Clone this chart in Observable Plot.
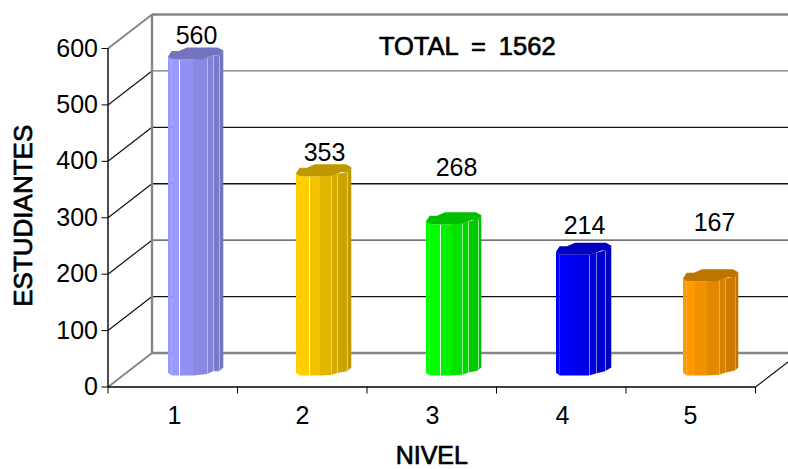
<!DOCTYPE html>
<html>
<head>
<meta charset="utf-8">
<script src="https://cdn.jsdelivr.net/npm/d3@7"></script>
<script src="https://cdn.jsdelivr.net/npm/@observablehq/plot@0.6"></script>
<style>html,body{margin:0;padding:0;background:#fff}svg{display:block}.wide{word-spacing:6px}</style>
</head>
<body>
<div id="chart"></div>
<script>
const niveles = ["1", "2", "3", "4", "5"];
const estudiantes = [560, 353, 268, 214, 167];
const baseColors = ["#9999ff", "#ffcc00", "#00ff00", "#0000ff", "#ff9900"];
const yTicks = [0, 100, 200, 300, 400, 500, 600];
const tituloTotal = "TOTAL = 1562";
const tituloY = "ESTUDIANTES";
const tituloX = "NIVEL";

// plot geometry
const mL = 107.5, mR = 33, mT = 48, mB = 82.5;
const W = 788, H = 469;
const xMax = 5, yMax = 600;
const pxX = (W - mL - mR) / xMax;       // pixels per x unit
const pxY = (H - mT - mB) / yMax;       // pixels per y unit
const ux = p => p / pxX, uy = p => p / pxY;
const depthX = ux(44), depthY = uy(34);  // oblique depth of the floor
const barLeftPx = [60.5, 188.5, 318.5, 448.5, 575.5];
const barLeft = i => ux(barLeftPx[i]);
const baseY = uy(11);                    // bars stand in the middle of the floor depth

// prism cross-section, in pixels from bar's left edge and rise above the front line
const profileX  = [0, 3.7, 33.7, 39.3, 45.3, 51.3, 55.3];
const profileUp = [2.7, 0, 0, 1.7, 4.3, 4.3, 8];
const rise = d3.scaleLinear(profileX, profileUp);
const facetShade = [1, 1, 0.95, 0.89, 0.84, 0.8, 0.75];
const capX  = [0, 3.7, 11, 19, 33.7, 39.3, 45.3, 50, 51.3, 55.3];
const capLo = [2.7, 0, 0, 0, 0, 1.7, 4.3, 4.3, 4.3, 8];
const capHi = [3, 8.5, 8.5, 12, 12, 12, 12, 12, 11.3, 9];
const capShade = 0.75;
// light facet edges of each prism
const edgeAt = [[11, 39, 45, 51], [13, 35, 41, 51], [14, 36, 42, 52], [11, 33, 40, 49], [12, 36, 42, 52]];
const edgeFirst = [0.9, 0.9, 0.9, 0, 0];
const edgeRest = [0.45, 0.5, 0.6, 0.5, 0.35];

const shade = (c, k) => {
  const r = d3.rgb(c);
  return d3.rgb(r.r * k, r.g * k, r.b * k).formatHex();
};

const strips = [], caps = [], edges = [];
estudiantes.forEach((v, i) => {
  const L = barLeft(i);
  const [e1, e2, e3, e4] = edgeAt[i];
  const xs = [0, 3.7, e1, (e1 + e2) / 2, e2, e3, e4, 55.3];
  facetShade.forEach((k, f) => {
    for (const j of [f, f + 1]) {
      const up = uy(rise(xs[j]));
      strips.push({
        id: `${i}-${f}`,
        x: L + ux(xs[j]),
        y1: baseY + up,
        y2: baseY + v + up,
        fill: shade(baseColors[i], k)
      });
    }
  });
  capX.forEach((p, j) => {
    caps.push({
      id: i,
      x: L + ux(p),
      y1: baseY + v + uy(capLo[j]),
      y2: baseY + v + uy(capHi[j]),
      fill: shade(baseColors[i], capShade)
    });
  });
  edgeAt[i].forEach((p, n) => {
    const up = uy(rise(p));
    edges.push({
      x: L + ux(p),
      y1: baseY + up,
      y2: baseY + v + up,
      o: n === 0 ? edgeFirst[i] : edgeRest[i]
    });
  });
});

// label placement above the bars
const labelX = [28, 28, 30, 28, 31].map(ux);
const labelLift = [24, 24, 57, 29, 59].map(uy);
const tickLabelX = [66.5, 194.5, 324.5, 454.5, 582.5].map(ux);
const gridColor = d => (d === 500 ? "#777" : d === 200 ? "#444" : "#111");

const plot = Plot.plot({
  width: W, height: H,
  marginLeft: mL, marginRight: mR, marginTop: mT, marginBottom: mB,
  x: {domain: [0, xMax], range: [mL, W - mR], axis: null},
  y: {domain: [0, yMax], range: [H - mB, mT], axis: null},
  color: {type: "identity"},
  style: {fontFamily: "'Liberation Sans', Arial, sans-serif", fontSize: "25px", color: "#000", background: "#fff"},
  marks: [
    // back wall grid
    Plot.link(yTicks.slice(1, -1), {x1: depthX, x2: xMax + depthX, y1: d => d + depthY, y2: d => d + depthY, stroke: gridColor, strokeWidth: 1.3}),
    Plot.link(yTicks.slice(1, -1), {x1: 0, x2: depthX, y1: d => d, y2: d => d + depthY, stroke: "#111", strokeWidth: 1.2}),
    Plot.link([0, yMax], {x1: depthX, x2: xMax + depthX, y1: d => d + depthY, y2: d => d + depthY, stroke: "#868686", strokeWidth: 2.4}),
    Plot.link([0, yMax], {x1: 0, x2: depthX, y1: d => d, y2: d => d + depthY, stroke: "#868686", strokeWidth: 2}),
    Plot.link([depthX], {x1: d => d, x2: d => d, y1: depthY, y2: yMax + depthY, stroke: "#868686", strokeWidth: 2.4}),
    Plot.link([xMax], {x1: d => d, x2: d => d + depthX, y1: 0, y2: depthY, stroke: "#111", strokeWidth: 1.2}),
    // axes
    Plot.ruleX([0], {stroke: "#000", strokeWidth: 1.4, y1: 0, y2: yMax}),
    Plot.ruleY([0], {stroke: "#000", strokeWidth: 1.4, x1: 0, x2: xMax}),
    Plot.axisY({ticks: yTicks, tickSize: 6, tickPadding: 4, fontSize: 25, label: null, stroke: "#000"}),
    Plot.axisX({ticks: d3.range(0, xMax + 1), tickSize: 7, tickFormat: () => "", label: null, stroke: "#000"}),
    // bars
    Plot.area(strips, {x1: "x", y1: "y1", y2: "y2", z: "id", fill: "fill", curve: "linear"}),
    Plot.link(edges, {x1: "x", x2: "x", y1: "y1", y2: "y2", stroke: "#fff", strokeOpacity: "o", strokeWidth: 1}),
    Plot.area(caps, {x1: "x", y1: "y1", y2: "y2", z: "id", fill: "fill", curve: "linear"}),
    // texts
    Plot.text(estudiantes, {x: (d, i) => barLeft(i) + labelX[i], y: (d, i) => baseY + d + labelLift[i], text: d => String(d), fontSize: 25, lineAnchor: "middle"}),
    Plot.text(niveles, {x: (d, i) => tickLabelX[i], y: 0, text: d => d, dy: 29, fontSize: 25, lineAnchor: "middle"}),
    Plot.text([tituloTotal], {frameAnchor: "top", dx: 35.5, dy: -2, fontSize: 25.5, lineAnchor: "middle", fill: "#000", stroke: "#000", strokeWidth: 0.7, className: "wide"}),
    Plot.text([tituloY], {frameAnchor: "left", textAnchor: "middle", rotate: -90, dx: -84.5, dy: -2, fontSize: 26, lineAnchor: "middle", fill: "#000", stroke: "#000", strokeWidth: 0.7}),
    Plot.text([tituloX], {frameAnchor: "bottom", dy: 69, fontSize: 25, lineAnchor: "middle", fill: "#000", stroke: "#000", strokeWidth: 0.7})
  ]
});
document.getElementById("chart").appendChild(plot);
</script>
</body>
</html>
